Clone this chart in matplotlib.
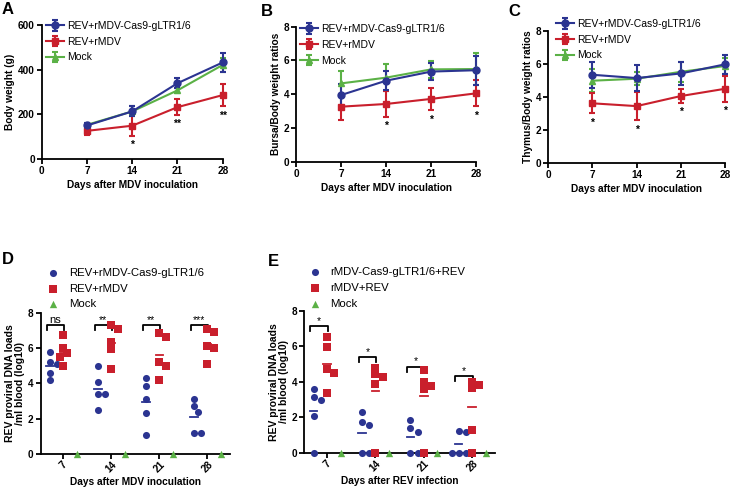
import numpy as np
import matplotlib
matplotlib.use("Agg")
import matplotlib.pyplot as plt

plt.rcParams["font.family"] = ["Liberation Sans", "DejaVu Sans"]
plt.rcParams["font.size"] = 8

# ── Data ─────────────────────────────────────────────────────────────────────
days = [7, 14, 21, 28]
day_labels = ["7", "14", "21", "28"]

# A: body weight (g)
bw_cas9 = [150, 213, 339, 432]
bw_cas9_err = [10, 22, 22, 44]
bw_rmdv = [126, 149, 232, 286]
bw_rmdv_err = [18, 46, 35, 50]
bw_mock = [153, 213, 307, 421]
bw_mock_err = [10, 22, 12, 30]
bw_stars = ["", "*", "**", "**"]

# B: bursa/body weight ratios
bu_cas9 = [3.95, 4.80, 5.34, 5.42]
bu_cas9_err = [0.65, 0.55, 0.50, 0.85]
bu_rmdv = [3.26, 3.42, 3.72, 4.05]
bu_rmdv_err = [0.78, 0.78, 0.67, 0.78]
bu_mock = [4.64, 4.98, 5.47, 5.49]
bu_mock_err = [0.75, 0.80, 0.50, 0.93]
bu_stars = ["", "*", "*", "*"]

# C: thymus/body weight ratios
th_cas9 = [5.33, 5.13, 5.41, 5.96]
th_cas9_err = [0.80, 0.78, 0.70, 0.56]
th_rmdv = [3.60, 3.43, 4.04, 4.48]
th_rmdv_err = [0.60, 0.87, 0.40, 0.80]
th_mock = [4.97, 5.09, 5.51, 5.86]
th_mock_err = [0.70, 0.40, 0.60, 0.50]
th_stars = ["*", "*", "*", "*"]

# D: REV proviral DNA loads, log10 per ml blood
d_cas9 = [[5.2, 5.8, 4.2, 5.1, 4.6],
          [5.0, 4.1, 3.4, 3.4, 2.5],
          [4.3, 3.85, 3.1, 2.35, 1.1],
          [3.1, 2.7, 2.4, 1.2, 1.2]]
d_rmdv = [[6.75, 6.0, 5.7, 5.5, 5.0],
          [7.3, 7.05, 6.35, 5.95, 4.8],
          [6.85, 6.65, 5.2, 5.0, 4.2],
          [7.05, 6.9, 6.1, 6.0, 5.1]]
d_mock = [[0.0], [0.0], [0.0], [0.0]]
d_sig = ["ns", "**", "**", "***"]
d_sig_y = [7.3, 7.3, 7.3, 7.3]

# E: REV proviral DNA loads after REV infection
e_cas9 = [[3.6, 3.15, 2.95, 2.05, 0.0],
          [2.3, 1.75, 1.55, 0.0, 0.0],
          [1.85, 1.4, 1.15, 0.0, 0.0],
          [1.25, 1.15, 0.0, 0.0, 0.0]]
e_rmdv = [[6.55, 5.95, 4.7, 4.5, 3.35],
          [4.8, 4.45, 4.25, 3.9, 0.0],
          [4.65, 4.0, 3.75, 3.6, 0.0],
          [4.0, 3.85, 3.65, 1.3, 0.0]]
e_mock = [[0.0], [0.0], [0.0], [0.0]]
e_sig = ["*", "*", "*", "*"]
e_sig_y = [7.15, 5.4, 4.85, 4.33]

BLUE = "#2b3491"
RED = "#c91f2c"
GREEN = "#5bb146"

W, H = 733, 497
fig = plt.figure(figsize=(W / 100, H / 100), dpi=100)


def style_axes(ax):
    for s in ("top", "right"):
        ax.spines[s].set_visible(False)
    for s in ("left", "bottom"):
        ax.spines[s].set_linewidth(1.3)
    ax.tick_params(width=1.3, length=3.5, direction="out", labelsize=7.2, pad=1.5)
    for lab in ax.get_xticklabels() + ax.get_yticklabels():
        lab.set_fontweight("bold")


def letter(x_px, y_px, s):
    fig.text(x_px / W, 1 - y_px / H, s, fontsize=12, fontweight="bold",
             ha="left", va="center")


# ── Line panels A-C ─────────────────────────────────────────────────────────
def line_panel(rect, series, ylim, yticks, ylabel, stars, leg_anchor):
    ax = fig.add_axes(rect)
    handles = []
    for key in ("mock", "rmdv", "cas9"):
        vals, errs, color, marker, label = series[key]
        h = ax.errorbar(days, vals, yerr=errs, color=color, marker=marker,
                        markersize=5, lw=1.5, elinewidth=1.5, capsize=2.5,
                        capthick=1.5, label=label, clip_on=False, zorder=3)
        handles.append(h)
    ax.set_xlim(0, 28)
    ax.set_ylim(*ylim)
    ax.set_xticks([0] + days)
    ax.set_yticks(yticks)
    ax.set_xlabel("Days after MDV inoculation", fontweight="bold", fontsize=7.3,
                  labelpad=3)
    ax.set_ylabel(ylabel, fontweight="bold", fontsize=7.3, labelpad=2)
    style_axes(ax)
    vals, errs = series["rmdv"][0], series["rmdv"][1]
    for d, v, e, s in zip(days, vals, errs, stars):
        if s:
            ax.annotate(s, (d, v - e), xytext=(0, -3), textcoords="offset points",
                        ha="center", va="top", fontsize=7.5, fontweight="bold")
    ax.legend(handles[::-1], [h.get_label() for h in handles[::-1]],
              loc="upper left", bbox_to_anchor=leg_anchor, frameon=False,
              fontsize=7.5, handlelength=1.7, handletextpad=0.3,
              labelspacing=0.55, borderaxespad=0)
    return ax


line_panel([0.0569, 0.680, 0.247, 0.270],
           {"cas9": (bw_cas9, bw_cas9_err, BLUE, "o", "REV+rMDV-Cas9-gLTR1/6"),
            "rmdv": (bw_rmdv, bw_rmdv_err, RED, "s", "REV+rMDV"),
            "mock": (bw_mock, bw_mock_err, GREEN, "^", "Mock")},
           (0, 600), [0, 200, 400, 600], "Body weight (g)", bw_stars, (0.0, 1.06))
line_panel([0.404, 0.6747, 0.2456, 0.2716],
           {"cas9": (bu_cas9, bu_cas9_err, BLUE, "o", "REV+rMDV-Cas9-gLTR1/6"),
            "rmdv": (bu_rmdv, bu_rmdv_err, RED, "s", "REV+rMDV"),
            "mock": (bu_mock, bu_mock_err, GREEN, "^", "Mock")},
           (0, 8), [0, 2, 4, 6, 8], "Bursa/Body weight ratios", bu_stars, (0.0, 1.05))
line_panel([0.748, 0.6726, 0.241, 0.2656],
           {"cas9": (th_cas9, th_cas9_err, BLUE, "o", "REV+rMDV-Cas9-gLTR1/6"),
            "rmdv": (th_rmdv, th_rmdv_err, RED, "s", "REV+rMDV"),
            "mock": (th_mock, th_mock_err, GREEN, "^", "Mock")},
           (0, 8), [0, 2, 4, 6, 8], "Thymus/Body weight ratios", th_stars, (0.02, 1.12))
letter(2, 10, "A")
letter(261, 11, "B")
letter(508, 11, "C")


# ── Scatter panels D-E ─────────────────────────────────────────────────────
GROUP_STEP = 3.6


def swarm_x(ax, xc, vals, diam_px=6.5):
    pts = ax.transData.transform(np.column_stack([np.full(len(vals), xc),
                                                  np.asarray(vals, float)]))
    placed = []
    out = []
    for px, py in pts:
        for k in (0, 1, -1, 2, -2, 3, -3, 4, -4):
            cx = px + k * diam_px * 0.55
            if all(np.hypot(cx - qx, py - qy) >= diam_px * 0.95 for qx, qy in placed):
                break
        placed.append((cx, py))
        out.append(cx)
    xs = ax.transData.inverted().transform(np.column_stack([out, pts[:, 1]]))[:, 0]
    return xs


def scatter_panel(rect, cas9, rmdv, mock, labels, sig, sig_y, xlabel, leg_anchor):
    ax = fig.add_axes(rect)
    centers = np.arange(len(days)) * GROUP_STEP
    ax.set_xlim(-1.7, centers[-1] + 1.7)
    ax.set_ylim(0, 8)
    groups = [(cas9, -1.0, BLUE, "o", 26), (rmdv, 0.0, RED, "s", 26),
              (mock, 1.0, GREEN, "^", 28)]
    handles = []
    for data, off, color, marker, size in groups:
        for i, vals in enumerate(data):
            xs = swarm_x(ax, centers[i] + off, vals)
            h = ax.scatter(xs, vals, s=size, marker=marker, color=color,
                           linewidths=0, clip_on=False, zorder=3)
            if len(vals) > 1:
                m = np.mean(vals)
                ax.plot([centers[i] + off - 0.28, centers[i] + off + 0.28],
                        [m, m], color=color, lw=1.3, zorder=2)
        handles.append(h)
    for i, (s, y) in enumerate(zip(sig, sig_y)):
        x0, x1 = centers[i] - 1.25, centers[i] + 0.05
        ax.plot([x0, x0, x1, x1], [y - 0.3, y, y, y - 0.3], color="black",
                lw=1.3, clip_on=False)
        ax.text((x0 + x1) / 2, y + 0.02, s, ha="center", va="bottom",
                fontsize=8 if s == "ns" else 7.5)
    ax.set_xticks(centers)
    ax.set_xticklabels(day_labels)
    ax.set_yticks([0, 2, 4, 6, 8])
    style_axes(ax)
    plt.setp(ax.get_xticklabels(), rotation=45, ha="center")
    ax.tick_params(axis="x", pad=0.5)
    ax.set_xlabel(xlabel, fontweight="bold", fontsize=7.3, labelpad=2)
    ax.set_ylabel("REV proviral DNA loads\n/ml blood (log10)", fontweight="bold",
                  fontsize=7.5, labelpad=2, linespacing=1.05)
    ax.legend(handles, labels, loc="upper left", bbox_to_anchor=leg_anchor,
              frameon=False, fontsize=8.2, handlelength=1.0, handletextpad=0.9,
              labelspacing=0.5, borderaxespad=0, scatterpoints=1)
    return ax


scatter_panel([0.0555, 0.0865, 0.2583, 0.2843], d_cas9, d_rmdv, d_mock,
              ["REV+rMDV-Cas9-gLTR1/6", "REV+rMDV", "Mock"], d_sig, d_sig_y,
              "Days after MDV inoculation", (0.01, 1.35))
scatter_panel([0.4151, 0.0891, 0.2602, 0.2851], e_cas9, e_rmdv, e_mock,
              ["rMDV-Cas9-gLTR1/6+REV", "rMDV+REV", "Mock"], e_sig, e_sig_y,
              "Days after REV infection", (0.0, 1.34))
letter(2, 260, "D")
letter(268, 262, "E")

fig.savefig("out.png", dpi=100)
